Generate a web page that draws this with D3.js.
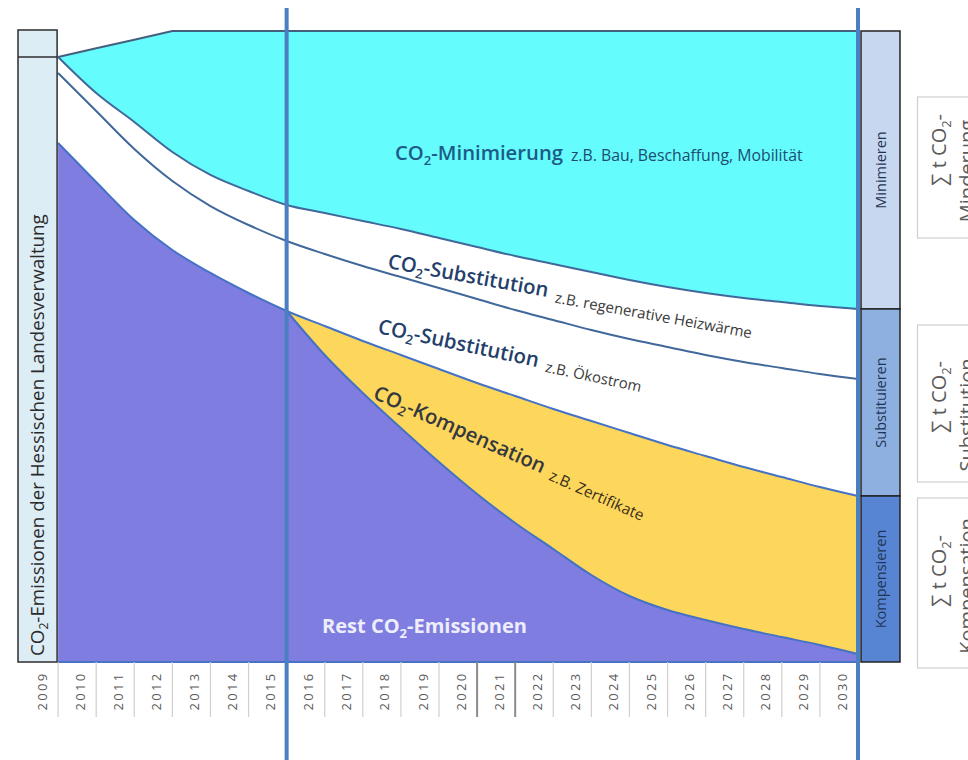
<!DOCTYPE html>
<html>
<head>
<meta charset="utf-8">
<script src="https://cdn.jsdelivr.net/npm/d3@7/dist/d3.min.js"></script>
<style>
html,body{margin:0;padding:0;background:#fff;}
svg{display:block;}
</style>
</head>
<body>
<svg id="chart" width="968" height="760"></svg>
<script>
// ---------------- data (values in % of 2009 emissions, read at the end of each year) ----------------
const years = [2009,2010,2011,2012,2013,2014,2015,2016,2017,2018,2019,2020,2021,2022,2023,2024,2025,2026,2027,2028,2029,2030];
const topBound = [100,101.43,102.86,104.3,104.3,104.3,104.3,104.3,104.3,104.3,104.3,104.3,104.3,104.3,104.3,104.3,104.3,104.3,104.3,104.3,104.3,104.3];
const minimierung = [100,94.05,89.26,84.3,80.5,77.85,75.54,74.21,72.89,71.57,70.08,68.6,67.11,65.79,64.46,63.14,61.98,60.99,60.17,59.5,58.84,58.35];
const heizwaerme = [97.36,91.07,84.79,79.5,75.37,72.23,69.59,67.44,65.45,63.64,61.82,60.0,58.18,56.53,54.88,53.39,52.07,50.74,49.59,48.6,47.6,46.78];
const oekostrom = [85.79,79.34,73.06,68.1,64.3,60.99,58.02,55.54,53.06,50.74,48.43,46.12,43.97,41.82,39.83,37.85,35.87,34.05,32.23,30.58,28.93,27.44];
const restEmissionen = [85.79,79.34,73.06,68.1,64.3,60.99,58.02,50.74,44.46,38.68,33.06,27.77,22.98,18.68,14.38,10.91,8.6,6.94,5.45,4.13,2.81,1.32];
const splitYear = 2015;
const sectionLabels = ["Minimieren","Substituieren","Kompensieren"];
const sumLabels = ["Minderung","Substitution","Kompensation"];
const leftLabel = [{t:"CO"},{t:"2",sub:true},{t:"-Emissionen der Hessischen Landesverwaltung"}];

// ---------------- setup ----------------
const svg = d3.select("#chart");
const FONT = "'Open Sans','DejaVu Sans',sans-serif";
svg.attr("font-family", FONT);

const x = d3.scaleBand().domain(years).range([20,858]).paddingInner(0).paddingOuter(0);
const bw = x.bandwidth();
const xe = yr => x(yr) + bw;                 // end of a year column
const y = d3.scaleLinear().domain([0,100]).range([662,57]);
const topMax = d3.max(topBound);

const rows = years.map((yr,i)=>({yr, top:topBound[i], l1:minimierung[i], l2:heizwaerme[i], l3:oekostrom[i], l4:restEmissionen[i]}));
const post = rows.filter(d=>d.yr>=splitYear);
const xSplit = xe(splitYear), xEnd = xe(years[years.length-1]), xStart = xe(years[0]);

const defs = svg.append("defs");
defs.append("clipPath").attr("id","clipL").append("rect").attr("x",0).attr("y",0).attr("width",xSplit).attr("height",760);
defs.append("clipPath").attr("id","clipR").append("rect").attr("x",xSplit).attr("y",0).attr("width",968-xSplit).attr("height",760);

const mono = d3.curveMonotoneX;
const X = d=>xe(d.yr);

// cyan minimisation area
svg.append("path").datum(rows)
  .attr("d", d3.area().x(X).y0(d=>y(d.l1)).y1(y(topMax)).curve(mono))
  .attr("fill","#64fcfc");
// white above the rising top line
svg.append("path").datum(rows)
  .attr("d", d3.area().x(X).y0(d=>y(d.top)).y1(y(topMax)-3))
  .attr("fill","#fff");
// yellow compensation (under Ökostrom line, right part)
svg.append("path").datum(rows)
  .attr("d", d3.area().x(X).y0(y(0)).y1(d=>y(d.l3)).curve(mono))
  .attr("fill","#fdd65c").attr("clip-path","url(#clipR)");
// purple rest emissions
svg.append("path").datum(rows)
  .attr("d", d3.area().x(X).y0(y(0)).y1(d=>y(d.l3)).curve(mono))
  .attr("fill","#7f7de0").attr("clip-path","url(#clipL)");
svg.append("path").datum(post)
  .attr("d", d3.area().x(X).y0(y(0)).y1(d=>y(d.l4)).curve(mono))
  .attr("fill","#7f7de0");

// lines
svg.append("path").datum(rows).attr("d", d3.line().x(X).y(d=>y(d.top)))
  .attr("fill","none").attr("stroke","#45607c").attr("stroke-width",2);
[["l1","#41689a"],["l2","#41689a"],["l3","#4472c4"]].forEach(([k,c])=>{
  svg.append("path").datum(rows).attr("d", d3.line().x(X).y(d=>y(d[k])).curve(mono))
    .attr("fill","none").attr("stroke",c).attr("stroke-width",2);
});
svg.append("path").datum(post).attr("d", d3.line().x(X).y(d=>y(d.l4)).curve(mono))
  .attr("fill","none").attr("stroke","#4472c4").attr("stroke-width",2);
svg.append("line").attr("x1",xStart).attr("x2",xEnd).attr("y1",y(0)).attr("y2",y(0))
  .attr("stroke","#4a72c4").attr("stroke-width",2);

// ---------------- x axis ----------------
const sepG = svg.append("g");
years.slice(1).forEach(yr=>{
  sepG.append("line").attr("x1",x(yr)).attr("x2",x(yr)).attr("y1",y(0)).attr("y2",717)
    .attr("stroke", (yr===2021||yr===2022)?"#8a8a8a":"#cfcfcf").attr("stroke-width",(yr===2021||yr===2022)?2:1.2);
});
const axG = svg.append("g").attr("transform",`translate(0,${y(0)})`)
  .call(d3.axisBottom(x).tickSize(0));
axG.select(".domain").remove();
axG.selectAll("text")
  .attr("x",0).attr("y",0).attr("dy","0.35em")
  .attr("transform","translate(3,29) rotate(-90)")
  .attr("text-anchor","middle")
  .attr("font-family",FONT).attr("font-size",13).attr("letter-spacing","2.3px")
  .attr("fill","#5a5a5a");

// ---------------- vertical markers ----------------
[xSplit, xEnd].forEach(xv=>{
  svg.append("line").attr("x1",xv).attr("x2",xv).attr("y1",8).attr("y2",760)
    .attr("stroke","#4a7fc2").attr("stroke-width",4);
});

// ---------------- helpers ----------------
function rich(parent, parts, size){
  const t = parent.append("text").attr("font-size",size);
  let sub=false;
  parts.forEach(p=>{
    const s = t.append("tspan").text(p.t);
    if(p.sub){ s.attr("font-size","65%").attr("dy","0.35em"); sub=true; }
    else if(sub){ s.attr("dy","-0.2275em"); sub=false; }
  });
  return t;
}
function fit(t, target){
  const L = t.node().getComputedTextLength();
  const fs = parseFloat(t.attr("font-size"));
  t.attr("font-size", fs*target/L);
  return t;
}

// ---------------- left box ----------------
const boxTop = y(topMax)-1;
svg.append("rect").attr("x",18).attr("y",boxTop).attr("width",xStart-18-1).attr("height",y(0)-boxTop)
  .attr("fill","#ddedf5").attr("stroke","#2e2e2e").attr("stroke-width",1.5);
svg.append("line").attr("x1",18).attr("x2",xStart-1).attr("y1",y(100)).attr("y2",y(100))
  .attr("stroke","#2e2e2e").attr("stroke-width",1.5);
const lg = svg.append("g").attr("transform",`translate(44,656) rotate(-90)`);
fit(rich(lg, leftLabel, 16).attr("fill","#2b2b2b"), 442);

// ---------------- right section boxes ----------------
const bounds = [topBound[topBound.length-1], minimierung[minimierung.length-1], oekostrom[oekostrom.length-1], 0].map(v=>y(v));
const secFill = ["#c8d7f0","#8eb0e1","#5785d3"];
sectionLabels.forEach((lab,i)=>{
  const y0 = bounds[i], y1 = bounds[i+1];
  svg.append("rect").attr("x",861).attr("y",y0).attr("width",39).attr("height",y1-y0)
    .attr("fill",secFill[i]).attr("stroke","#232323").attr("stroke-width",1.5);
  svg.append("text").attr("transform",`translate(880.5,${(y0+y1)/2}) rotate(-90)`)
    .attr("text-anchor","middle").attr("dy","0.35em")
    .attr("font-size",14.5).attr("fill","#1f3554").text(lab);
});

// ---------------- far right sum boxes ----------------
const sumBoxes = [[97,238],[325,482],[498,668]];
const sumC1 = [150,397,571], sumC2 = [171,415,586];
sumBoxes.forEach(([a,b],i)=>{
  svg.append("rect").attr("x",917.5).attr("y",a).attr("width",80).attr("height",b-a)
    .attr("fill","#fff").attr("stroke","#cfcfcf").attr("stroke-width",1.2);
  const g1 = svg.append("g").attr("transform",`translate(946,${sumC1[i]}) rotate(-90)`);
  rich(g1,[{t:"\u2211 t CO"},{t:"2",sub:true},{t:"-"}],20).attr("text-anchor","middle").attr("fill","#5a5a5a");
  const g2 = svg.append("g").attr("transform",`translate(974,${sumC2[i]}) rotate(-90)`);
  g2.append("text").attr("font-size",20).attr("text-anchor","middle").attr("fill","#5a5a5a").text(sumLabels[i]);
});

// ---------------- area labels ----------------
function label(xp, yp, rot, big, bigLen, bigColor, small, smallLen, smallColor, dySmall){
  const g = svg.append("g").attr("transform",`translate(${xp},${yp}) rotate(${rot})`);
  const t = fit(rich(g, big, 20).attr("font-weight",600).attr("fill",bigColor), bigLen);
  const L = t.node().getComputedTextLength();
  const s = g.append("text").attr("x",L+8).attr("y",dySmall).attr("font-size",12).attr("fill",smallColor).text(small);
  fit(s, smallLen);
}
label(395,160,0,[{t:"CO"},{t:"2",sub:true},{t:"-Minimierung"}],168,"#1d5a86","z.B. Bau, Beschaffung, Mobilität",232,"#1d4c72",1);
label(387,268,10.3,[{t:"CO"},{t:"2",sub:true},{t:"-Substitution"}],163,"#24406a","z.B. regenerative Heizwärme",200,"#3a3a3a",4);
label(377,333,12,[{t:"CO"},{t:"2",sub:true},{t:"-Substitution"}],164,"#24406a","z.B. Ökostrom",98,"#3a3a3a",3);
label(372,398,24,[{t:"CO"},{t:"2",sub:true},{t:"-Kompensation"}],186,"#34383f","z.B. Zertifikate",102,"#3a2e1a",3);

const rest = fit(rich(svg.append("g").attr("transform","translate(322,633)"),
  [{t:"Rest CO"},{t:"2",sub:true},{t:"-Emissionen"}],18).attr("font-weight",700).attr("fill","#eeeefb"), 205);
</script>
</body>
</html>
